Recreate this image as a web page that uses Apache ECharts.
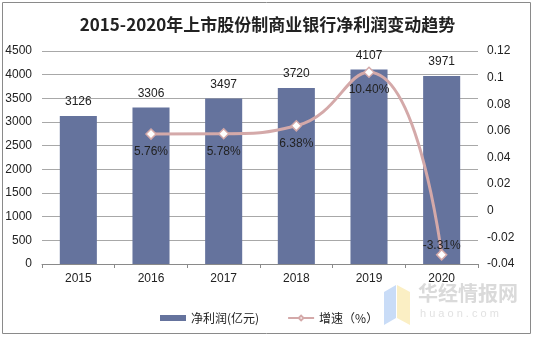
<!DOCTYPE html>
<html><head><meta charset="utf-8">
<script src="https://cdn.jsdelivr.net/npm/echarts@6/dist/echarts.min.js"></script>
<style>html,body{margin:0;padding:0;background:#fff}#c{width:535px;height:337px}</style>
</head><body><div id="c"></div>
<script>
var categories = ['2015','2016','2017','2018','2019','2020'];
var netProfit = [3126, 3306, 3497, 3720, 4107, 3971];
var growth = [null, 0.0576, 0.0578, 0.0638, 0.1040, -0.0331];
var growthLabels = ['', '5.76%', '5.78%', '6.38%', '10.40%', '-3.31%'];
var leftTicks = [0,500,1000,1500,2000,2500,3000,3500,4000,4500];
var rightTicks = [-0.04,-0.02,0,0.02,0.04,0.06,0.08,0.1,0.12];

var chart = echarts.init(document.getElementById('c'));
var font = 'Liberation Sans, Arial, sans-serif';
chart.setOption({
  animation: false,
  title: {
    text: '2015-2020年上市股份制商业银行净利润变动趋势',
    left: 'center', top: 11,
    textStyle: {fontFamily: 'Noto Sans CJK SC', fontWeight: 'bold', fontSize: 17, color: '#222'}
  },
  graphic: [
    {type: 'rect', shape: {x: 2.5, y: 2.5, width: 528, height: 331}, style: {fill: 'none', stroke: '#8a8a8a', lineWidth: 1}, z: -1},
    {type: 'polygon', shape: {points: [[384,292],[396,285],[396,318],[384,325]]}, style: {fill: '#c9dcf7'}, z: -1},
    {type: 'polygon', shape: {points: [[397,285],[410,292],[410,325],[397,318]]}, style: {fill: '#fbefc4'}, z: -1},
    {type: 'text', left: 418, top: 283, style: {text: '华经情报网', fill: '#dadada', font: 'bold 20px Noto Sans CJK SC'}, z: -1},
    {type: 'text', left: 420, top: 308, style: {text: 'h u a o n . c o m', fill: '#e2e2e2', font: '11px Liberation Sans'}, z: -1}
  ],
  legend: {
    bottom: 8, left: 155, itemGap: 28,
    textStyle: {fontFamily: 'Noto Sans CJK SC', fontSize: 12, color: '#222'},
    data: [
      {name: '净利润(亿元)', icon: 'rect', itemStyle: {color: '#65739d'}},
      {name: '增速（%）'}
    ],
    itemWidth: 26, itemHeight: 6
  },
  grid: {left: 42, right: 57, top: 51, bottom: 73},
  xAxis: {
    type: 'category', data: categories,
    axisLine: {lineStyle: {color: '#8a8a8a'}},
    axisTick: {show: true, lineStyle: {color: '#8a8a8a'}, length: 4},
    axisLabel: {color: '#222', fontFamily: font, fontSize: 12, margin: 9}
  },
  yAxis: [
    {type: 'value', min: 0, max: 4500, interval: 500,
     axisLine: {show: false}, axisTick: {show: false},
     splitLine: {lineStyle: {color: '#a8a8a8'}},
     axisLabel: {color: '#222', fontFamily: font, fontSize: 12, margin: 10,
       formatter: function(v){ return String(v); }}},
    {type: 'value', min: -0.04, max: 0.12, interval: 0.02,
     axisLine: {show: false}, axisTick: {show: false}, splitLine: {show: false},
     axisLabel: {color: '#222', fontFamily: font, fontSize: 12, margin: 9,
       formatter: function(v){ return String(Math.round(v*100)/100); }}}
  ],
  series: [
    {name: '净利润(亿元)', type: 'bar', data: netProfit, barWidth: '51%',
     itemStyle: {color: '#65739d'},
     label: {show: true, position: 'top', color: '#222', fontFamily: font, fontSize: 12, distance: 8}},
    {name: '增速（%）', type: 'line', yAxisIndex: 1, data: growth, smooth: 0.5,
     symbol: 'diamond', symbolSize: 10, showSymbol: true,
     lineStyle: {color: '#d4a9a9', width: 3},
     itemStyle: {color: '#ffffff', borderColor: '#d4a9a9', borderWidth: 1.5},
     label: {show: true, position: 'bottom', distance: 6, color: '#222', fontFamily: font, fontSize: 12,
       formatter: function(p){ return growthLabels[p.dataIndex]; }},
     labelLayout: function(p){ return p.dataIndex === 5 ? {dy: -27, dx: 0} : {}; }
    }
  ]
});
</script></body></html>
